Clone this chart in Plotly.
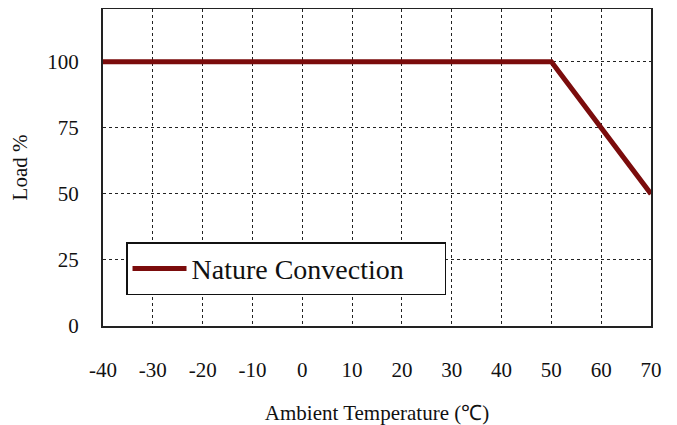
import plotly.graph_objects as go

# Data
temperature = [-40, 50, 70]
load_pct = [100, 100, 50]
series_name = "Nature Convection"
x_ticks = [-40, -30, -20, -10, 0, 10, 20, 30, 40, 50, 60, 70]
y_ticks = [0, 25, 50, 75, 100]

FONT = "Liberation Serif, Times New Roman, serif"
LINE_COLOR = "#7B0C0C"

fig = go.Figure()
fig.add_trace(go.Scatter(
    x=temperature, y=load_pct, mode="lines", name=series_name,
    line=dict(color=LINE_COLOR, width=5),
    showlegend=True,
))

# the page body has an 8px default margin, so the figure is sized to fit the window
fig.update_layout(
    width=669, height=417,
    margin=dict(l=95, r=26, t=1, b=99),
    paper_bgcolor="white", plot_bgcolor="white",
    font=dict(family=FONT, color="#111111", size=21),
    showlegend=True,
    legend=dict(
        x=0.042, y=0.264, xanchor="left", yanchor="top",
        orientation="h", entrywidth=248, entrywidthmode="pixels",
        bgcolor="white", bordercolor="#111111", borderwidth=1.5,
        font=dict(family=FONT, size=28, color="#111111"),
        itemwidth=54,
    ),
)

fig.update_xaxes(
    range=[-40, 70], tickvals=x_ticks, ticktext=[str(v) for v in x_ticks],
    showgrid=True, gridcolor="#222222", gridwidth=1, griddash="3px,3px",
    showline=True, linecolor="#222222", linewidth=2, mirror=True,
    ticks="", ticklabelstandoff=24, zeroline=False, automargin=False,
    title=dict(text="Ambient Temperature (℃)", font=dict(family=FONT, size=21), standoff=32),
    tickfont=dict(family=FONT, size=21),
)
fig.update_yaxes(
    range=[0, 120], tickvals=y_ticks, ticktext=[str(v) for v in y_ticks],
    showgrid=True, gridcolor="#222222", gridwidth=1, griddash="3px,3px",
    showline=True, linecolor="#222222", linewidth=2, mirror=True,
    ticks="", ticklabelstandoff=18, zeroline=False, automargin=False,
    title=dict(text="Load %", font=dict(family=FONT, size=21), standoff=14),
    tickfont=dict(family=FONT, size=21),
)

fig.write_html("out.html")
